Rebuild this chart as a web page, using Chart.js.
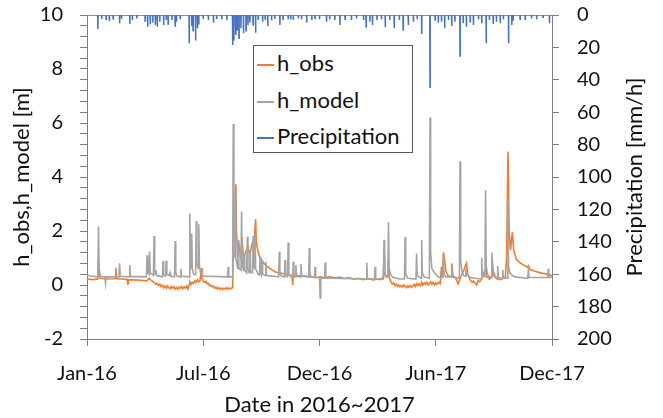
<!DOCTYPE html>
<html>
<head>
<meta charset="utf-8">
<script src="https://cdn.jsdelivr.net/npm/chart.js@4"></script>
<style>
  html, body { margin: 0; padding: 0; background: #fff; }
  #wrap { position: relative; width: 663px; height: 418px; }
  #legend { position: absolute; left: 253px; top: 45px; width: 158px; height: 106px;
            border: 1px solid #595959; background: #fff; font-family: Lato, sans-serif;
            font-size: 22px; color: #111; }
  .item { position: absolute; left: 3px; height: 26px; line-height: 26px; white-space: nowrap; }
  .item i { display: inline-block; width: 17px; height: 0; border-top: 2px solid; vertical-align: middle; margin-right: 3px; }
</style>
</head>
<body>
<div id="wrap">
  <canvas id="chart" width="663" height="418"></canvas>
  <div id="legend">
    <div class="item" style="top:4px"><i style="border-color:#ED7D31"></i>h_obs</div>
    <div class="item" style="top:41px"><i style="border-color:#A5A5A5"></i>h_model</div>
    <div class="item" style="top:77px"><i style="border-color:#4472C4"></i>Precipitation</div>
  </div>
</div>
<script>
// ---------- data (x = days since 1 Jan 2016) ----------
const xTickDays   = [0, 182, 364, 546, 728];
const xTickLabels = ["Jan-16", "Jul-16", "Dec-16", "Jun-17", "Dec-17"];

// observed water level [m]
const obsDays = [0,10,17,18,19,21,30,44,45,46,48,55,63,64,65,80,94,97,99,105,108,110,112,114,116,118,120,122,124,126,128,130,132,134,136,138,140,142,144,146,148,150,152,154,156,158,160,161,163,165,167,169,171,173,175,177,179,180,182,184,186,188,190,192,194,196,198,200,202,204,206,208,210,212,214,216,218,220,222,224,226,228,229,231,233,234,236,238,240,243,245,248,252,255,258,262,264,265,268,271,275,279,284,290,295,302,307,312,318,321,322,323,330,340,350,360,365,372,380,388,395,403,410,418,425,432,440,448,455,460,464,465,466,468,471,472,473,476,478,480,482,484,486,488,490,492,494,496,498,500,502,504,506,508,510,512,514,516,518,520,522,524,526,528,530,532,534,536,538,540,542,544,546,548,550,553,555,556,557,558,560,562,565,570,571,573,577,581,585,589,594,596,600,603,605,608,610,612,615,618,624,626,630,633,634,636,640,645,650,655,657,659,661,663,666,668,672,678,685,690,691,693,700,710,720,728];
const obsLevels = [0.22,0.2,0.22,1.0,0.45,0.25,0.22,0.23,0.64,0.3,0.22,0.22,0.2,0.0,0.2,0.18,0.15,0.25,0.2,0.1,0.02,0.06,-0.02,0.03,-0.06,-0.01,-0.1,-0.04,-0.12,-0.03,-0.1,-0.14,-0.05,-0.12,-0.06,-0.15,-0.09,-0.16,-0.08,-0.13,-0.05,-0.14,-0.07,-0.12,-0.04,-0.15,0.02,0.12,0.02,0.1,0.05,0.16,0.1,0.2,0.12,0.16,0.63,0.25,0.15,0.1,0.14,0.04,0.06,-0.03,0.0,-0.07,-0.04,-0.12,-0.08,-0.15,-0.1,-0.16,-0.11,-0.17,-0.12,-0.15,-0.1,-0.16,-0.11,-0.15,-0.12,-0.1,1.5,2.6,3.73,2.0,1.2,1.5,1.1,1.6,1.0,1.2,1.4,1.1,1.5,1.7,2.43,1.6,1.2,1.0,0.85,0.75,0.65,0.55,0.48,0.45,0.42,0.4,0.37,0.36,0.0,0.35,0.35,0.33,0.3,0.28,0.3,0.27,0.31,0.26,0.29,0.24,0.27,0.22,0.25,0.2,0.23,0.19,0.22,0.2,0.3,1.15,0.5,0.3,0.35,0.9,0.3,0.1,0.04,0.08,-0.02,0.03,-0.05,0.0,-0.07,-0.02,-0.08,0.0,-0.06,-0.1,-0.03,-0.08,-0.02,-0.09,-0.04,0.02,-0.05,0.05,-0.02,0.04,-0.03,0.1,0.0,0.08,0.02,0.1,0.0,0.06,0.12,0.03,0.1,0.0,0.08,0.02,0.1,0.05,0.68,0.3,0.35,1.21,0.9,0.5,0.35,0.3,0.8,0.35,0.25,0.05,0.3,0.5,0.8,0.4,0.18,0.1,0.15,0.05,0.0,0.15,0.12,0.25,0.6,0.3,0.22,0.3,1.05,0.5,0.25,0.2,0.22,0.3,1.0,4.94,2.0,1.3,1.95,1.3,0.95,0.82,0.72,0.65,0.7,0.58,0.52,0.45,0.4,0.35];

// modelled water level [m]
const modelDays = [0,5,17,18,19,21,28,29,30,50,51,52,66,67,68,93,94,95,97,98,99,104,105,106,107,108,109,118,119,120,123,124,125,129,130,131,137,138,139,141,146,147,148,160,161,162,163,164,165,167,170,171,172,174,175,176,178,182,220,221,222,228,229,230,231,232,233,236,237,238,241,242,243,245,246,247,250,251,252,254,255,256,259,260,261,262,263,264,268,270,271,272,273,274,275,279,280,281,300,301,302,305,309,310,311,314,315,316,319,322,323,324,326,327,328,334,335,336,347,348,349,351,356,357,358,364,365,366,372,373,374,400,437,438,439,450,451,452,464,465,466,468,471,472,473,476,480,490,497,498,499,502,515,516,517,523,524,525,528,536,537,538,540,544,550,557,558,559,562,570,571,572,583,584,585,587,590,592,593,594,600,610,617,618,619,623,624,625,627,630,633,634,635,638,642,643,644,650,651,652,658,659,660,662,666,670,690,691,692,721,722,723,728];
const modelLevels = [0.37,0.33,0.3,2.18,0.6,0.32,0.3,0.07,0.3,0.3,0.8,0.32,0.3,0.74,0.32,0.3,1.1,0.45,0.4,1.23,0.45,0.35,1.81,0.5,0.4,0.55,0.35,0.3,0.89,0.35,0.32,0.9,0.4,0.35,0.45,0.32,0.3,1.63,0.45,0.33,0.3,0.6,0.33,0.3,2.65,0.8,0.6,1.91,0.6,0.4,0.38,2.37,0.8,0.6,2.25,0.7,0.45,0.33,0.3,0.67,0.3,0.3,5.96,1.2,1.0,3.4,1.0,0.6,1.67,0.6,0.55,2.72,0.8,0.5,1.17,0.55,0.45,1.79,0.6,0.45,1.3,0.5,0.45,1.81,0.7,0.6,1.91,0.6,0.4,0.37,1.05,0.45,0.38,0.93,0.4,0.35,0.86,0.35,0.3,1.23,0.4,0.32,0.3,0.93,0.35,0.3,1.57,0.4,0.3,0.3,0.86,0.35,0.3,0.74,0.33,0.3,0.78,0.33,0.3,1.37,0.4,0.3,0.28,0.67,0.28,0.28,-0.48,0.25,0.25,0.83,0.25,0.24,0.22,0.83,0.23,0.22,0.67,0.23,0.22,1.68,0.4,0.3,0.3,2.33,0.6,0.35,0.28,0.22,0.22,1.78,0.4,0.25,0.22,1.17,0.35,0.25,1.67,0.45,0.3,0.25,6.2,1.2,0.6,0.45,0.3,0.28,1.11,0.4,0.3,0.3,0.7,0.3,0.25,4.58,0.9,0.5,0.35,0.33,0.58,0.4,0.28,0.24,0.22,1.02,0.35,0.3,3.52,0.7,0.4,0.3,0.3,1.2,0.4,0.3,0.28,0.7,0.28,0.25,0.56,0.25,0.25,3.18,0.7,0.45,0.35,0.3,0.25,0.6,0.28,0.28,0.6,0.28,0.3];

// rain events [mm/h]
const precipDays  = [17,23,30,35,41,51,54,67,71,78,91,95,99,103,107,110,114,120,124,127,133,138,140,146,160,164,166,170,173,175,182,190,198,203,211,219,228,230,233,235,238,241,245,249,252,255,260,264,268,275,279,283,289,294,302,307,315,319,323,331,336,344,352,357,364,375,380,388,396,404,414,422,433,437,443,447,454,461,467,474,481,489,495,503,511,517,524,537,545,550,555,560,566,571,576,584,589,594,600,605,613,618,625,630,636,641,647,652,660,665,667,678,686,696,704,714,724];
const precipRates = [8.6,2.5,2.7,3.7,2.5,5.1,2.5,5.6,3.1,2.1,3.7,7.2,5.8,4.7,6.2,7.2,4.1,6.2,3.1,5.6,3.1,6.8,4.1,2.7,17.5,6.8,9.7,15.8,8.2,5.8,2.5,3.1,4.7,2.5,2.7,3.1,18.5,15.8,12.3,9.3,14.4,8.2,11.3,9.7,6.2,4.7,6.2,10.9,2.7,4.1,3.1,6.8,3.3,2.5,6.2,2.7,2.7,2.7,3.1,2.1,2.7,4.7,3.1,2.1,2.7,4.1,2.7,3.1,6.2,2.7,3.1,2.1,3.1,7.2,4.1,6.2,3.1,2.7,7.6,3.1,8.2,3.1,9.3,6.2,4.1,2.7,11.7,44.6,3.1,4.7,4.1,8.2,3.1,6.8,4.1,25.3,5.1,7.2,4.7,6.2,2.7,5.1,17.5,3.1,5.6,4.1,5.1,2.7,17.5,6.2,3.1,2.7,2.7,2.1,2.7,1.4,5.1];

// ---------- build ----------
const obsData   = obsDays.map((d, i) => ({ x: d, y: obsLevels[i] }));
const modelData = modelDays.map((d, i) => ({ x: d, y: modelLevels[i] }));
// precipitation drawn as a hanging line: zero between events
const precipData = [{ x: 0, y: 0 }];
precipDays.forEach((d, i) => {
  precipData.push({ x: d - 0.3, y: 0 }, { x: d, y: precipRates[i] }, { x: d + 0.3, y: 0 });
});
precipData.push({ x: 728, y: 0 });

const AXIS = "#7f7f7f";
const TICK_FONT  = { family: "Lato, sans-serif", size: 20 };
const TITLE_FONT = { family: "Lato, sans-serif", size: 22 };

// keep the plot box fixed: drop the label overhang padding Chart.js adds
function fixBox(s, w, h) {
  if (w) s.width = w;
  if (h) s.height = h;
  s.paddingTop = 0; s.paddingBottom = 0; s.paddingLeft = 0; s.paddingRight = 0;
}

// right-hand title reads bottom-to-top like the left one
const rightTitle = {
  id: "rightTitle",
  afterDraw(chart) {
    const { ctx, chartArea } = chart;
    ctx.save();
    ctx.translate(635, (chartArea.top + chartArea.bottom) / 2);
    ctx.rotate(-Math.PI / 2);
    ctx.font = "22px Lato, sans-serif";
    ctx.fillStyle = "#111";
    ctx.textAlign = "center";
    ctx.textBaseline = "middle";
    ctx.fillText("Precipitation [mm/h]", 0, 0);
    ctx.restore();
  }
};

new Chart(document.getElementById("chart"), {
  type: "line",
  data: {
    datasets: [
      { label: "h_obs", data: obsData, borderColor: "#ED7D31", borderWidth: 1.6, pointRadius: 0, yAxisID: "y", order: 2 },
      { label: "h_model", data: modelData, borderColor: "#A5A5A5", borderWidth: 1.6, pointRadius: 0, yAxisID: "y", order: 1 },
      { label: "Precipitation", data: precipData, borderColor: "#4472C4", borderWidth: 1.5, pointRadius: 0, yAxisID: "y2", order: 0 },
    ],
  },
  options: {
    responsive: false,
    devicePixelRatio: 1,
    animation: false,
    layout: { padding: { top: 15, left: 0, right: 0, bottom: 0 } },
    plugins: { legend: { display: false }, tooltip: { enabled: false } },
    scales: {
      x: {
        type: "linear", min: 0, max: 728, offset: false,
        afterBuildTicks: (s) => { s.ticks = xTickDays.map(v => ({ value: v })); },
        afterFit: (s) => fixBox(s, 0, 79),
        ticks: { autoSkip: false, maxRotation: 0, padding: 16, color: "#111", font: TICK_FONT,
                 callback: (v) => xTickLabels[xTickDays.indexOf(v)] },
        grid: { drawOnChartArea: false, tickLength: 7, color: AXIS },
        border: { color: AXIS },
        title: { display: true, text: "Date in 2016~2017", color: "#111", font: TITLE_FONT, padding: { top: 0, bottom: 0 } },
      },
      y: {
        position: "left", min: -2, max: 10,
        afterFit: (s) => fixBox(s, 87, 0),
        ticks: { stepSize: 0.4, autoSkip: false, padding: 17, color: "#111", font: TICK_FONT,
                 callback: (v) => Math.abs(v / 2 - Math.round(v / 2)) < 1e-6 ? String(Math.round(v)) : "" },
        grid: { drawOnChartArea: false, tickLength: 7, color: AXIS },
        border: { color: AXIS },
        title: { display: true, text: "h_obs,h_model [m]", color: "#111", font: TITLE_FONT, padding: { top: 9, bottom: 0 } },
      },
      y2: {
        position: "right", reverse: true, min: 0, max: 200,
        afterFit: (s) => fixBox(s, 111, 0),
        ticks: { stepSize: 20, autoSkip: false, padding: 18, color: "#111", font: TICK_FONT },
        grid: { drawOnChartArea: false, tickLength: 7, color: AXIS },
        border: { color: AXIS },
      },
    },
  },
  plugins: [rightTitle],
});
</script>
</body>
</html>
